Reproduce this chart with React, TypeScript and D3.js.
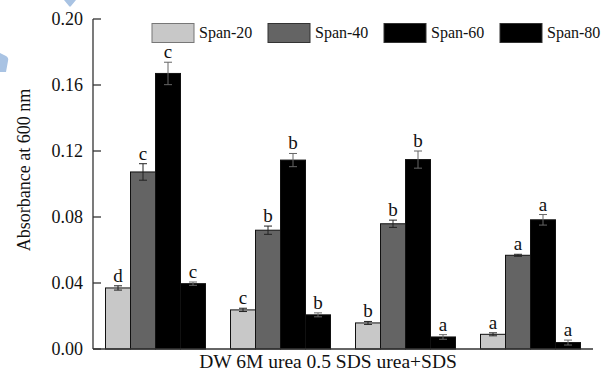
import React from 'react';
import * as d3 from 'd3';

const categories = ['DW', '6M urea', '0.5 SDS', 'urea+SDS'];
const seriesNames = ['Span-20', 'Span-40', 'Span-60', 'Span-80'];
const span20 = [0.037, 0.0237, 0.0158, 0.0089];
const span40 = [0.1073, 0.072, 0.0759, 0.0568];
const span60 = [0.167, 0.1145, 0.1148, 0.0783];
const span80 = [0.0396, 0.0207, 0.0073, 0.0039];
const span20Err = [0.0013, 0.001, 0.0009, 0.0009];
const span40Err = [0.005, 0.0025, 0.0022, 0.0006];
const span60Err = [0.0068, 0.004, 0.0052, 0.0032];
const span80Err = [0.001, 0.0012, 0.0014, 0.0015];
const span20Letters = ['d', 'c', 'b', 'a'];
const span40Letters = ['c', 'b', 'b', 'a'];
const span60Letters = ['c', 'b', 'b', 'a'];
const span80Letters = ['c', 'b', 'a', 'a'];
const yTicks = [0, 0.04, 0.08, 0.12, 0.16, 0.2];
const yLabel = 'Absorbance at 600 nm';

const colors = ['#c8c8c8', '#646464', '#000000', '#000000'];
const legendStroke = ['#777', '#333', '#333', '#333'];

const W = 610;
const H = 376;
const left = 93;
const right = 593;
const top = 19;
const bottom = 349;
const FONT = '"Liberation Serif", "Times New Roman", Times, serif';

export default function App() {
  const values = [span20, span40, span60, span80];
  const errs = [span20Err, span40Err, span60Err, span80Err];
  const letters = [span20Letters, span40Letters, span60Letters, span80Letters];

  const x0 = d3.scaleBand<string>().domain(categories).range([left, right]).paddingInner(0.2).paddingOuter(0.1).align(0.5);
  const x1 = d3.scaleBand<string>().domain(seriesNames).range([0, x0.bandwidth()]).padding(0);
  const y = d3.scaleLinear().domain([0, 0.2]).range([bottom, top]);
  const legendX = d3.scalePoint<string>().domain(seriesNames).range([152, 500]);

  const bars: React.ReactNode[] = [];
  categories.forEach((cat, ci) => {
    seriesNames.forEach((s, si) => {
      const v = values[si][ci];
      const e = errs[si][ci];
      const bx = (x0(cat) as number) + (x1(s) as number);
      const bw = x1.bandwidth();
      const cx = bx + bw / 2;
      const errColor = si >= 2 ? '#666' : '#222';
      bars.push(
        <g key={cat + s}>
          <rect x={bx} y={y(v)} width={bw} height={bottom - y(v)} fill={colors[si]} stroke="#111" strokeWidth={1} />
          <line x1={cx} x2={cx} y1={y(v - e)} y2={y(v + e)} stroke={errColor} strokeWidth={1} />
          <line x1={cx - 4} x2={cx + 4} y1={y(v + e)} y2={y(v + e)} stroke={errColor} strokeWidth={1} />
          <line x1={cx - 4} x2={cx + 4} y1={y(v - e)} y2={y(v - e)} stroke={errColor} strokeWidth={1} />
          <text x={cx} y={y(v + e) - 4} textAnchor="middle" fontSize={19} fontFamily={FONT} fill="#111">
            {letters[si][ci]}
          </text>
        </g>
      );
    });
  });

  return (
    <svg width={W} height={H} style={{ position: 'absolute', left: 0, top: 0, background: '#fff' }}>
      <rect x={0} y={0} width={W} height={H} fill="#fff" />
      {/* watermark fragments */}
      <path d="M64,0 L76,0 L71,6 Q70,7.5 69,6 Z" fill="#a9c3e3" />
      <path d="M0,53 L6,56 Q9,58 8,61 L6,72 L0,72 Z" fill="#a9c3e3" />
      {bars}
      {/* axes */}
      <line x1={left} x2={left} y1={top} y2={bottom} stroke="#333" strokeWidth={1.3} />
      <line x1={left} x2={right} y1={bottom} y2={bottom} stroke="#333" strokeWidth={1.3} />
      {yTicks.map((t) => (
        <g key={t}>
          <line x1={left} x2={left + 8} y1={y(t)} y2={y(t)} stroke="#333" strokeWidth={1.3} />
          <text x={left - 10} y={y(t)} dy="0.33em" textAnchor="end" fontSize={18} fontFamily={FONT} fill="#111">
            {d3.format('.2f')(t)}
          </text>
        </g>
      ))}
      <text
        transform={`translate(24, 170) rotate(-90)`}
        textAnchor="middle"
        dy="0.33em"
        fontSize={18}
        fontFamily={FONT}
        fill="#111"
      >
        {yLabel}
      </text>
      <text x={328} y={368} textAnchor="middle" fontSize={19.5} fontFamily={FONT} fill="#111">
        {categories.join(' ')}
      </text>
      {/* legend */}
      {seriesNames.map((s, si) => {
        const lx = legendX(s) as number;
        return (
          <g key={s}>
            <rect x={lx} y={23.5} width={42} height={19} fill={colors[si]} stroke={legendStroke[si]} strokeWidth={1} />
            <text x={lx + 47} y={37.5} fontSize={16} fontFamily={FONT} fill="#111">
              {s}
            </text>
          </g>
        );
      })}
    </svg>
  );
}
